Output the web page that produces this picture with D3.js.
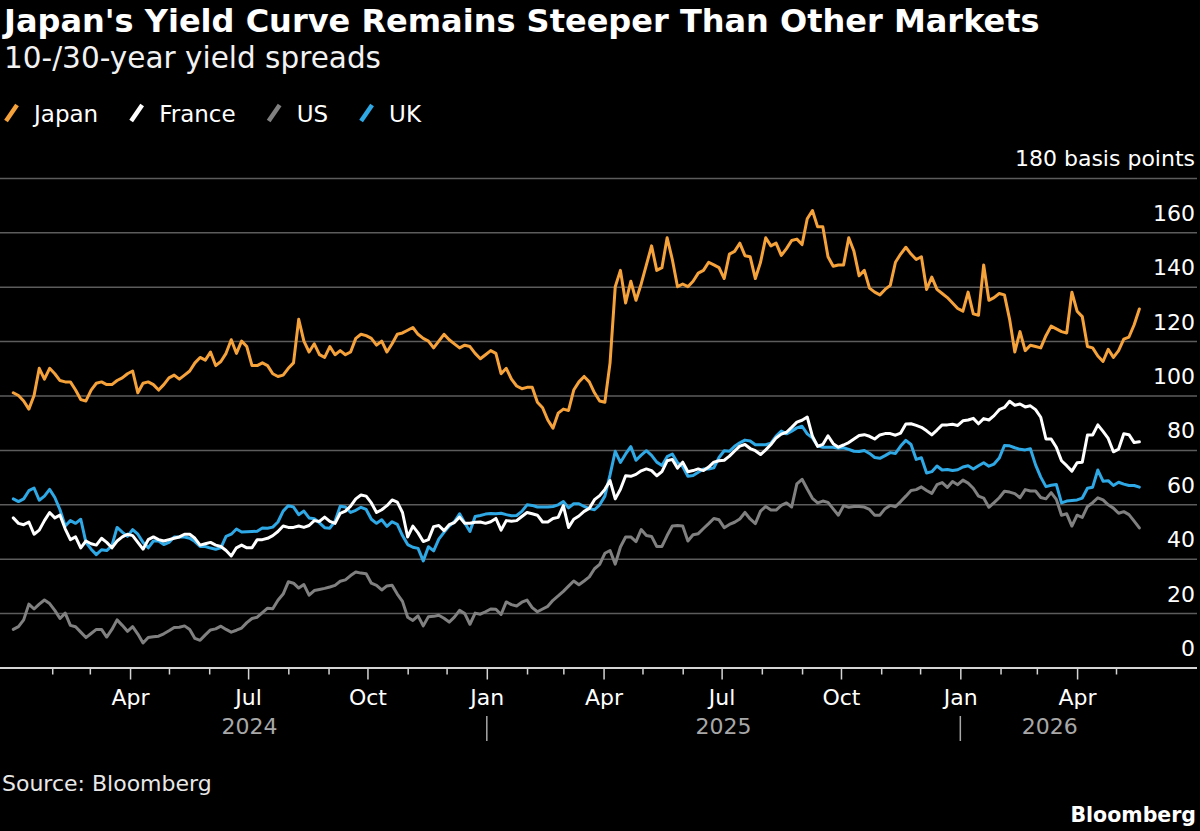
<!DOCTYPE html>
<html>
<head>
<meta charset="utf-8">
<script src="https://cdn.jsdelivr.net/npm/d3@7"></script>
<style>
  html, body { margin: 0; padding: 0; background: #000; }
  svg { display: block; }
  text { font-family: "DejaVu Sans", "Noto Sans", sans-serif; }
</style>
</head>
<body>
<svg id="chart" width="1200" height="831"></svg>
<script>
// ---------------- DATA ----------------
const firstDate = "2024-01-02";   // first observation
const stepDays = 4;               // spacing between observations (days)

const seriesNames = ["Japan", "France", "US", "UK"];

const japan = [
  101,100,98,95,100,110,106,110,108,105.5,
  105,105,102,98.5,98,102,104.5,105,104,104,
  105.5,106.5,108,109,101,104.5,105,104,102,104,
  106.5,107.5,106,107.5,109,112,114,113,116,111,
  112.5,115.5,120.5,115.5,120,118,111,111,112,111,
  108,107,107.5,110,112,128,120,116,119,115,
  114,118,115,116.5,115,116,121,122.5,122,121,
  118.5,120,116,119,122.5,123,124,125,122.5,121,
  120,117.5,120,122.5,120.5,119,117.5,118.5,118,115.5,
  113.5,115,116.5,115.5,108,110,106,103.5,102.5,103,
  103,97.5,95.5,91,88,93.5,95,94.5,102,105,
  107,105,101,98,97.5,112,140,146,134,142,
  135,141,148,155,146,147,158,150,140,141,
  140,142,145,146,149,148,147,143,152,153,
  156,151.4,151,143,149,158,155,156,151.5,154,
  157,157.5,155.5,165,168,162,162,151,147.5,148,
  148,158,153,144,146,139.5,138,137,139,140.5,
  149,152,154.5,152,150,151,139,143.5,139,137.5,
  136,134,132,131,138,130,129.5,148,135,136,
  137.5,137,128,116,123.5,116.5,118.5,118,117.5,122,
  125.5,124.5,123.5,123,138,131,129,118,117.5,114.5,
  112.5,117,114,116.5,120.7,121.5,126,131.8
];

const france = [
  55,53,52.5,53.5,49,50.5,54,57,55,56,
  51,47,48,44,46.5,45.5,45,47.5,46,44,
  46.5,48,49,48.5,46,43.5,47,48,47,46.5,
  47,47.5,48,49,49,47.5,45,45.5,46,45,
  44.5,43,41,44,45,44,44,47,47,47.5,
  48.5,50,52,51.5,51.5,52,51.5,52.2,54,53.7,
  55.3,53.7,53,56.7,57.5,59.3,62,63.4,63,60.5,
  57,58,59.5,61.6,60.8,57,48,52,49.5,46.3,
  47,51.8,52.2,50.3,52.5,53.3,55.3,53,53,53.4,
  53.5,53,53.6,54.8,50.5,54,53.8,54,55.5,57,
  56.5,56,53.5,53.5,54.8,55.2,59.5,51.5,54.5,55.7,
  57.4,58.5,61.7,63.2,65.5,68.7,62,65.5,70.5,70.3,
  71,72.3,73,72.4,70.5,72,76,76.5,73.3,75.5,
  72,72.4,73,72.4,73.7,75.5,76,76.2,77.7,79.6,
  81.4,82,80.5,79.7,78.3,80,82,84.4,85.8,86.5,
  88.3,90.2,90.9,92.1,85,81.3,82,85.2,82.3,81,
  81.8,82.7,84,85.3,85.6,85,84,85.5,86,86,
  85.4,86.2,89.5,89.6,89,88.3,87,85.5,87.3,89.2,
  89.2,89.4,89,90.7,91,91.6,89.6,91.5,91,92.6,
  94.8,95.6,97.9,96.4,96.9,95.8,96.2,94.8,92,84,
  84,81,76,74.2,72.2,75.3,75.5,85.5,85.5,89.2,
  86.8,84.2,79.3,80.3,85.9,85.6,82.7,83
];

const us = [
  14,15,17.5,23.3,21.5,23.3,24.8,23.5,21,18,
  20,15.5,15,13,11,12.5,14,14,11.2,14,
  17.5,15.5,13.3,15,12.3,9,11,11.3,11.5,12.4,
  13.5,14.7,14.8,15.3,14,10.7,10,12,13.8,14.2,
  15.2,14,13,13.7,14.5,16.5,18,18.5,20.2,21.8,
  21.6,24.7,27,31.5,31,29.2,30.5,26.6,28.3,28.7,
  29.1,29.6,30.2,31.7,32.2,33.8,35.1,34.7,34.5,31,
  30.2,28.5,30,30.2,27,24.3,18.5,17.3,19,15.3,
  18.7,18.8,19.2,18.1,16.7,18.5,21,19.8,15.9,20,
  19.6,20.5,21.5,21.4,19.5,24.1,23.1,22.6,24,24.8,
  22,20.5,21.5,22.5,24.7,26.3,28,29.9,31.8,30.4,
  31.8,33.3,36.3,37.9,42,43,38,44.3,48,48,
  46.3,50.7,48.5,48.2,44.5,44.5,48.5,52,52.2,52,
  46.5,48.8,49.2,51.1,52.9,54.8,54.3,51.4,52.6,53.4,
  54.6,57,54.6,52.9,57.5,59.2,57.9,57.9,59.6,60.5,
  59,67.5,69.2,65.6,62.2,60.5,61.2,60.7,58.3,56,
  59.5,58.9,59.2,59.2,59,58.1,56,56,58.4,59.6,
  59.1,61,63,65.1,65.4,66.4,65.1,64,67.2,68,
  66.2,68.4,67.2,68.9,67.8,65.9,63,62.3,58.9,60.6,
  62.4,64.8,64.5,63.9,62.4,65.4,64.9,64.9,62.5,62,
  64.3,61.8,56,56.5,52,56,55.2,59.2,60.6,62.4,
  61.6,59.8,58.6,56.7,57.3,56.2,53.8,51.3
];

const uk = [
  62,61,62,65,66,61.5,63,65.5,62.5,58,
  52,54,53,54.5,46,43.5,41.5,43.3,43,44.8,
  51.5,49.8,48.2,50.7,49,46,44,46.5,46.5,45.2,
  46,48,48,48,47.5,46.3,44.5,44.5,43.9,43.5,
  44,48.2,49,50.9,49.8,49.9,50,50.1,51.3,51.2,
  51.6,53.5,57.5,59.5,59,56.2,57.5,55,54.7,53.2,
  51.4,51.2,53.8,59.3,59,57,57.8,58.9,58.1,54.5,
  53,54.3,51.9,53.6,52.6,48.5,45.2,44.2,43.8,39.2,
  44.4,42.9,47.2,49.7,52,53.6,56.5,53.1,50,55.5,
  55.9,56.4,56.6,56.5,56.7,56.2,55.8,55.9,57.4,59.8,
  59.6,59,59,59,59.2,59.8,61,58.7,60.2,60.2,
  59.2,58.4,58,59.8,63,70.8,79.5,75.4,78.5,81.2,
  76.2,78.1,79.7,78,75.5,74.3,77.5,78.5,75.3,73.9,
  70.3,70.6,71.8,73,73,73.4,77.2,79.7,79.5,81.3,
  82.6,83.6,83.3,81.9,81.9,81.9,82.5,85.1,86.9,85.9,
  86.9,88.1,88.7,85.9,84.4,81.5,81,81,81,80.6,
  80.8,80.2,79.5,79.4,79.8,78.7,77.2,76.9,77.9,79,
  78.7,81.4,83.5,82,76.5,77.1,71.5,72,74.1,72.6,
  72.8,72.4,72.7,73.7,74.2,73,74.2,75.3,74,74.8,
  77,81.6,81.5,80.8,80.2,80,80.4,74.5,70,66.5,
  67,67.3,60.5,61.2,61.4,61.6,62.3,65.9,66.3,72.6,
  68.5,68.7,66.9,68.1,67.4,66.9,66.9,66.3
];

const yTicks = [0, 20, 40, 60, 80, 100, 120, 140, 160, 180];
const yUnit = "basis points";
const quarterLabels = ["Jan", "Apr", "Jul", "Oct"];
const yearLabels = ["2024", "2025", "2026"];

const titleText = "Japan's Yield Curve Remains Steeper Than Other Markets";
const subtitleText = "10-/30-year yield spreads";
const sourceText = "Source: Bloomberg";
const brandText = "Bloomberg";

// ---------------- STYLE ----------------
const colors = { Japan: "#f6a23b", France: "#ffffff", US: "#808080", UK: "#2fa8e6" };
const valuesByName = { Japan: japan, France: france, US: us, UK: uk };

// ---------------- BUILD ----------------
const svg = d3.select("#chart");
svg.append("rect").attr("width", 1200).attr("height", 831).attr("fill", "#000");

const parse = d3.utcParse("%Y-%m-%d");
const start = parse(firstDate);
const dates = japan.map((_, i) => d3.utcDay.offset(start, i * stepDays));
const lastDate = dates[dates.length - 1];

const x = d3.scaleUtc()
  .domain([new Date(Date.UTC(2024, 0, 1)), new Date(Date.UTC(2026, 4, 1))])
  .range([12, 1116]);
const y = d3.scaleLinear().domain([0, 180]).range([667.5, 177.9]);

const gridRight = 1197;

// gridlines
const grid = svg.append("g")
  .call(d3.axisRight(y).tickValues(yTicks).tickSize(gridRight).tickFormat(""));
grid.select(".domain").remove();
grid.selectAll(".tick line")
  .attr("stroke", d => d === 0 ? "#d4d4d4" : "#5c5c5c")
  .attr("stroke-width", d => d === 0 ? 2.2 : 1.5);

// y labels (right aligned, above gridline)
const yl = svg.append("g").attr("transform", "translate(1195,0)")
  .call(d3.axisLeft(y).tickValues(yTicks).tickSize(0).tickPadding(0)
    .tickFormat(d => d === 180 ? d + " " + yUnit : d));
yl.select(".domain").remove();
yl.selectAll(".tick text")
  .attr("x", 0).attr("dy", null).attr("y", -12)
  .attr("fill", "#fff").style("font-size", "22px")
  .style("font-family", '"DejaVu Sans", sans-serif');

// x axis
const monthTicks = d3.utcMonth.range(new Date(Date.UTC(2024, 1, 1)), new Date(Date.UTC(2026, 4, 2)));
const isQuarter = d => d.getUTCMonth() % 3 === 0;
const xa = svg.append("g").attr("transform", `translate(0,${y(0)})`)
  .call(d3.axisBottom(x).tickValues(monthTicks).tickSize(7)
    .tickFormat(d => isQuarter(d) ? quarterLabels[d.getUTCMonth() / 3] : ""));
xa.select(".domain").remove();
xa.selectAll(".tick line")
  .attr("stroke", "#d4d4d4").attr("stroke-width", 1.5)
  .attr("y1", 1)
  .attr("y2", d => isQuarter(d) ? 12 : 7);
xa.selectAll(".tick text")
  .attr("dy", null).attr("y", 37.5)
  .attr("fill", "#fff").style("font-size", "22px")
  .style("font-family", '"DejaVu Sans", sans-serif');

// year labels and separators
const yearG = svg.append("g");
yearLabels.forEach((lab, k) => {
  const yr = +lab;
  const a = d3.max([x.domain()[0], new Date(Date.UTC(yr, 0, 1))]);
  const b = d3.min([lastDate, new Date(Date.UTC(yr + 1, 0, 1))]);
  yearG.append("text")
    .attr("x", (x(a) + x(b)) / 2).attr("y", 734)
    .attr("text-anchor", "middle").attr("fill", "#a8a8a8")
    .style("font-size", "22px").text(lab);
  if (k > 0) {
    const xs = x(new Date(Date.UTC(yr, 0, 1)));
    yearG.append("line")
      .attr("x1", xs).attr("x2", xs).attr("y1", 716).attr("y2", 741)
      .attr("stroke", "#a8a8a8").attr("stroke-width", 1.5);
  }
});

// lines (drawn so Japan ends on top)
const line = d3.line()
  .x((d, i) => x(dates[i]))
  .y(d => y(d))
  .curve(d3.curveLinear);
const drawOrder = ["US", "UK", "France", "Japan"];
svg.append("g").selectAll("path")
  .data(drawOrder)
  .join("path")
  .attr("d", n => line(valuesByName[n]))
  .attr("fill", "none")
  .attr("stroke", n => colors[n])
  .attr("stroke-width", 3)
  .attr("stroke-linejoin", "round")
  .attr("stroke-linecap", "round");

// title & subtitle
svg.append("text").attr("x", 4).attr("y", 32)
  .attr("fill", "#fff").style("font-size", "32px").style("font-weight", "bold")
  .text(titleText);
svg.append("text").attr("x", 4).attr("y", 68)
  .attr("fill", "#f2f2f2").style("font-size", "29.5px")
  .text(subtitleText);

// legend
const lg = svg.append("g");
let lx = 6;
seriesNames.forEach(n => {
  lg.append("line")
    .attr("x1", lx).attr("y1", 121).attr("x2", lx + 11).attr("y2", 105)
    .attr("stroke", colors[n]).attr("stroke-width", 4.5);
  const t = lg.append("text").attr("x", lx + 28).attr("y", 121.5)
    .attr("fill", "#fff").style("font-size", "23px").text(n);
  lx = lx + 28 + t.node().getComputedTextLength() + 33;
});

// footer
svg.append("text").attr("x", 2).attr("y", 791)
  .attr("fill", "#e8e8e8").style("font-size", "22px").text(sourceText);
svg.append("text").attr("x", 1196).attr("y", 822)
  .attr("text-anchor", "end").attr("fill", "#fff")
  .style("font-size", "20.5px").style("font-weight", "bold").text(brandText);
</script>
</body>
</html>
